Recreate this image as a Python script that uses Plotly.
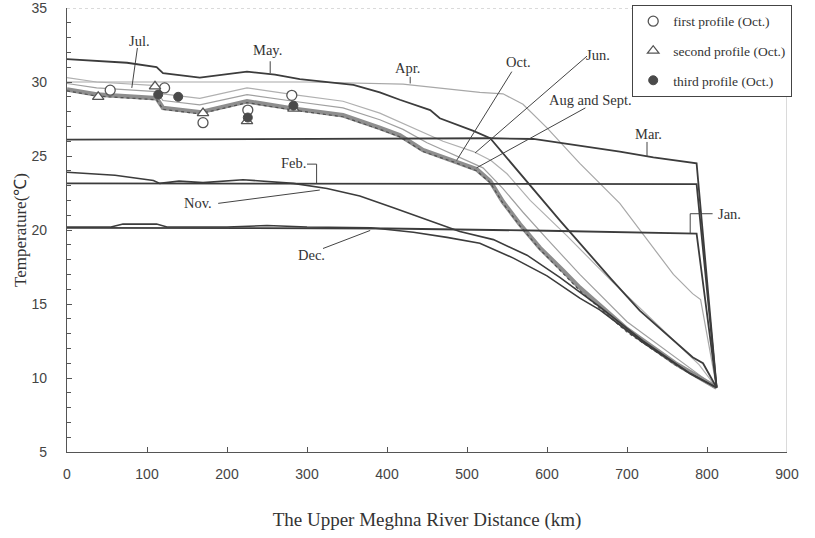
import plotly.graph_objects as go

# ---------------- data ----------------
mar_x = [0, 450, 530, 583, 691, 733, 787, 812]
mar_t = [26.1, 26.15, 26.2, 26.15, 25.3, 24.9, 24.5, 9.35]

feb_x = [0, 400, 787, 812]
feb_t = [23.15, 23.15, 23.1, 9.35]

jan_x = [0, 400, 600, 787, 812]
jan_t = [20.15, 20.1, 19.95, 19.75, 9.35]

nov_x = [0, 60, 108, 116, 140, 170, 220, 250, 283, 325, 366, 408, 450, 491, 533, 575, 616, 641, 666, 720, 779, 812]
nov_t = [23.9, 23.7, 23.35, 23.15, 23.3, 23.2, 23.4, 23.3, 23.15, 22.8, 22.3, 21.5, 20.7, 19.9, 19.35, 18.3, 16.8, 15.8, 14.8, 12.5, 10.3, 9.35]

dec_x = [0, 55, 70, 112, 125, 200, 250, 300, 380, 433, 475, 516, 558, 600, 641, 666, 720, 779, 812]
dec_t = [20.2, 20.2, 20.4, 20.4, 20.2, 20.2, 20.3, 20.2, 20.15, 19.85, 19.5, 19.1, 18.1, 16.9, 15.4, 14.6, 12.4, 10.3, 9.35]

may_x = [0, 75, 112, 120, 166, 225, 260, 291, 358, 391, 416, 454, 466, 508, 529, 570, 616, 680, 716, 782, 795, 812]
may_t = [31.55, 31.3, 31.0, 30.6, 30.3, 30.7, 30.5, 30.2, 29.8, 29.3, 28.8, 28.1, 27.55, 26.7, 26.2, 23.6, 20.65, 16.7, 14.55, 11.4, 11.0, 9.35]

apr_x = [0, 300, 420, 516, 545, 570, 600, 641, 691, 758, 782, 792, 812]
apr_t = [30.0, 30.0, 29.85, 29.3, 29.2, 28.5, 26.9, 24.5, 21.8, 17.0, 15.7, 15.3, 9.35]

jun_x = [0, 37, 112, 120, 166, 225, 283, 345, 391, 433, 470, 508, 530, 550, 579, 625, 680, 740, 790, 812]
jun_t = [30.3, 30.0, 29.75, 29.2, 28.9, 29.6, 29.15, 28.7, 27.9, 26.9, 26.0, 25.3, 24.7, 23.8, 22.0, 19.6, 16.6, 13.5, 10.9, 9.35]

jul_x = [0, 37, 112, 120, 166, 225, 283, 345, 391, 420, 450, 490, 520, 545, 570, 600, 641, 700, 770, 812]
jul_t = [29.9, 29.6, 29.35, 28.75, 28.45, 29.15, 28.7, 28.25, 27.45, 26.8, 25.9, 24.9, 24.2, 22.8, 21.2, 19.4, 17.0, 13.8, 11.0, 9.35]

augsep_x = [0, 37, 112, 120, 166, 225, 283, 345, 391, 416, 445, 483, 512, 529, 545, 566, 591, 620, 641, 700, 760, 785, 812]
augsep_t = [29.5, 29.15, 28.9, 28.25, 27.95, 28.7, 28.2, 27.75, 26.9, 26.4, 25.4, 24.7, 24.1, 23.3, 21.9, 20.4, 18.8, 17.25, 16.1, 13.3, 11.0, 10.2, 9.35]

oct_x = augsep_x
oct_t = [29.4, 29.05, 28.8, 28.15, 27.85, 28.6, 28.1, 27.65, 26.8, 26.3, 25.3, 24.6, 24.0, 23.2, 21.8, 20.3, 18.7, 17.1, 15.9, 13.1, 10.9, 10.1, 9.35]

first_x = [54, 122, 170, 226, 281]
first_t = [29.45, 29.6, 27.25, 28.1, 29.1]
second_x = [39, 110, 170, 225, 283]
second_t = [29.0, 29.7, 27.9, 27.35, 28.2]
third_x = [114, 139, 226, 283]
third_t = [29.15, 29.0, 27.6, 28.4]

x_ticks = [0, 100, 200, 300, 400, 500, 600, 700, 800, 900]
y_ticks = [5, 10, 15, 20, 25, 30, 35]

# month labels: text, text position, pointer path
labels = [
    ("Jul.", 91, 32.8, [88, 81], [32.3, 29.6]),
    ("May.", 251, 32.15, [254, 254], [31.4, 30.6]),
    ("Apr.", 426, 30.95, [429, 429], [30.35, 29.9]),
    ("Oct.", 564, 31.35, [556, 487], [30.7, 24.7]),
    ("Jun.", 664, 31.8, [650, 510], [31.75, 25.2]),
    ("Aug and Sept.", 654, 28.8, [648, 512], [28.25, 24.2]),
    ("Mar.", 727, 26.5, [725, 725], [25.95, 24.95]),
    ("Feb.", 283, 24.5, [300, 312, 312], [24.45, 24.45, 23.15]),
    ("Nov.", 164, 21.8, [189, 316], [21.8, 22.7]),
    ("Dec.", 306, 18.3, [320, 379], [18.75, 19.97]),
    ("Jan.", 828, 21.1, [807, 779, 779], [21.1, 21.1, 19.77]),
]

DARK = "#3c3c3c"
SERIF = "Liberation Serif, Times New Roman, serif"

fig = go.Figure()

def line(x, y, color, width, dash="solid"):
    fig.add_trace(go.Scatter(x=x, y=y, mode="lines", showlegend=False, hoverinfo="skip",
                             line=dict(color=color, width=width, dash=dash)))

# light / thick lines first
line(apr_x, apr_t, "#a8a8a8", 1.2)
line(jun_x, jun_t, "#b0b0b0", 1.2)
line(jul_x, jul_t, "#a0a0a0", 1.2)
line(augsep_x, augsep_t, "#8e8e8e", 4.5)
line(oct_x, oct_t, "#505050", 1.2, "dot")
# dark lines
line(mar_x, mar_t, DARK, 1.8)
line(feb_x, feb_t, DARK, 1.8)
line(jan_x, jan_t, DARK, 1.8)
line(nov_x, nov_t, DARK, 1.6)
line(dec_x, dec_t, DARK, 1.6)
line(may_x, may_t, DARK, 1.8)

# pointers + labels
for txt, tx, ty, px, py in labels:
    fig.add_trace(go.Scatter(x=px, y=py, mode="lines", showlegend=False, hoverinfo="skip",
                             line=dict(color="#444", width=1)))
    fig.add_annotation(x=tx, y=ty, text=txt, showarrow=False,
                       font=dict(family=SERIF, size=14.5, color="#333"))

# profile markers
fig.add_trace(go.Scatter(x=first_x, y=first_t, mode="markers", name="first profile (Oct.)",
                         legendgroup="a",
                         marker=dict(symbol="circle", size=10, color="white",
                                     line=dict(color="#555", width=1.3))))
fig.add_trace(go.Scatter(x=second_x, y=second_t, mode="markers", name="second profile (Oct.)",
                         legendgroup="b",
                         marker=dict(symbol="triangle-up", size=10, color="white",
                                     line=dict(color="#555", width=1.3))))
fig.add_trace(go.Scatter(x=third_x, y=third_t, mode="markers", name="third profile (Oct.)",
                         legendgroup="c",
                         marker=dict(symbol="circle", size=9, color="#4a4a4a",
                                     line=dict(color="#4a4a4a", width=1))))

# light top / right frame
fig.add_shape(type="line", x0=0, x1=900, y0=35, y1=35, xref="x", yref="y",
              line=dict(color="#b5b5b5", width=1, dash="dot"))
fig.add_shape(type="line", x0=900, x1=900, y0=5, y1=35, xref="x", yref="y",
              line=dict(color="#b5b5b5", width=1))

fig.update_layout(
    width=815, height=538,
    margin=dict(l=67, r=28, t=8, b=86, autoexpand=False),
    plot_bgcolor="white", paper_bgcolor="white",
    font=dict(family=SERIF, color="#333"),
    legend=dict(x=0.785, xanchor="left", y=1.007, yanchor="top",
                bgcolor="white", bordercolor="#444", borderwidth=1,
                font=dict(family=SERIF, size=13.5, color="#333"),
                tracegroupgap=9, itemwidth=30),
    xaxis=dict(range=[0, 900], tickvals=x_ticks, ticks="inside", ticklen=5,
               tickcolor="#555", showline=True, linecolor="#555", linewidth=1.3,
               showgrid=False, zeroline=False, ticklabelstandoff=9, automargin=False,
               ticklabeloverflow="allow",
               tickfont=dict(family="Liberation Sans Narrow, Liberation Sans, sans-serif", size=14, color="#444"),
               title=dict(text="The Upper Meghna River Distance (km)",
                          font=dict(family=SERIF, size=19, color="#333"), standoff=31)),
    yaxis=dict(range=[5, 35], tickvals=y_ticks, ticks="inside", ticklen=5,
               tickcolor="#555", showline=True, linecolor="#555", linewidth=1.3,
               showgrid=False, zeroline=False, ticklabelstandoff=16, automargin=False,
               ticklabeloverflow="allow",
               minor=dict(dtick=1, ticks="inside", ticklen=4, tickcolor="#555"),
               tickfont=dict(family="Liberation Sans Narrow, Liberation Sans, sans-serif", size=14, color="#444"),
               title=dict(text="Temperature(℃)",
                          font=dict(family=SERIF, size=17, color="#333"), standoff=0)),
)

fig.write_html("out.html", config={"displayModeBar": False},
               post_script="document.body.style.margin='0';")
